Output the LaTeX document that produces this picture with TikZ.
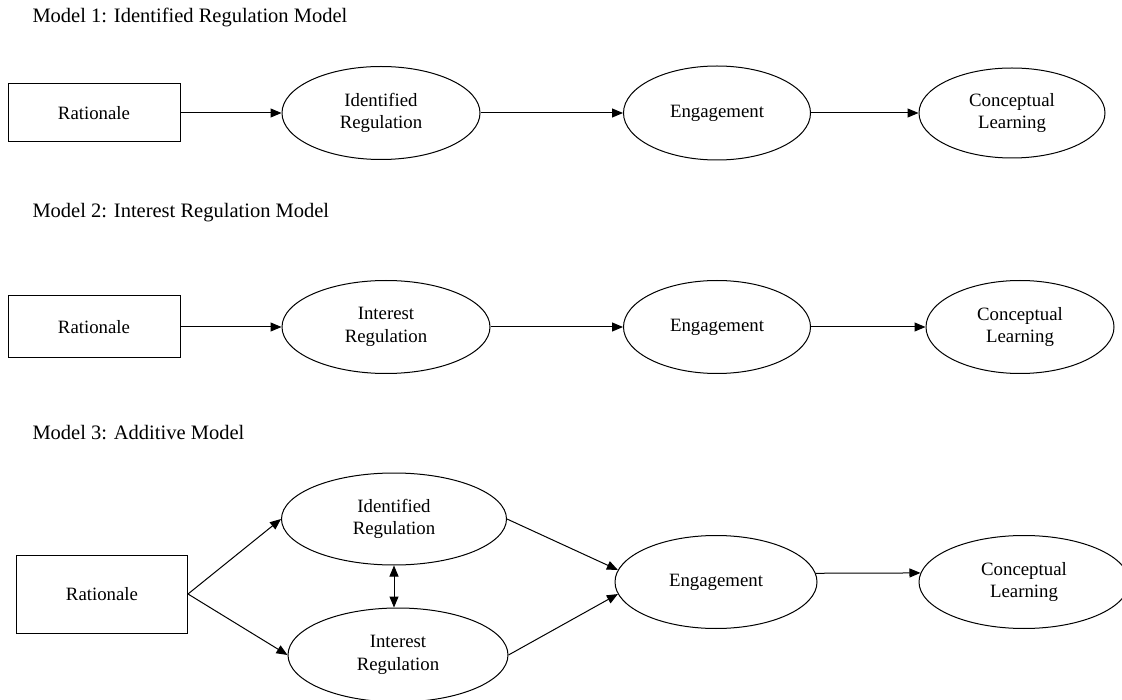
\documentclass[tikz,border=0pt]{standalone}
\usepackage{fontspec}
\setmainfont{Liberation Serif}
\usetikzlibrary{arrows.meta,shapes.geometric}

\begin{document}
\begin{tikzpicture}[x=1pt,y=-1pt,line width=1pt,
  box/.style={draw,rectangle,inner sep=0pt,font=\fontsize{18.8}{22.5}\selectfont},
  oval/.style={draw,ellipse,inner sep=0pt,align=center,font=\fontsize{18.8}{22.5}\selectfont},
  title/.style={anchor=west,inner sep=0pt,font=\fontsize{20.5}{24}\selectfont},
  arr/.style={-{Triangle[length=11pt,width=9pt]}},
  dbl/.style={{Triangle[length=11pt,width=9pt]}-{Triangle[length=11pt,width=9pt]}}]
\useasboundingbox (0,0) rectangle (1122,700);
%model 1
\node[title] (t1) at (32,18) {Model 1: Identified Regulation Model};
\node[box,minimum width=172pt,minimum height=58pt] (rat1) at (94,113) {Rationale};
\node[oval,minimum width=198pt,minimum height=93pt] (idr1) at (381,113) {Identified\\Regulation};
\node[oval,minimum width=187pt,minimum height=94pt] (eng1) at (717,113) {Engagement};
\node[oval,minimum width=186pt,minimum height=90pt] (con1) at (1012,113) {Conceptual\\Learning};
\draw[arr](rat1)--(idr1);
\draw[arr](idr1)--(eng1);
\draw[arr](eng1)--(con1);
%model 2
\node[title] (t2) at (32,213) {Model 2: Interest Regulation Model};
\node[box,minimum width=172pt,minimum height=62pt] (rat2) at (94,327) {Rationale};
\node[oval,minimum width=208pt,minimum height=93pt] (int2) at (386,327) {Interest\\Regulation};
\node[oval,minimum width=187pt,minimum height=93pt] (eng2) at (717,327) {Engagement};
\node[oval,minimum width=188pt,minimum height=93pt] (con2) at (1020,327) {Conceptual\\Learning};
\draw[arr](rat2)--(int2);
\draw[arr](int2)--(eng2);
\draw[arr](eng2)--(con2);
%model 3
\node[title] (t3) at (32,433) {Model 3: Additive Model};
\node[box,minimum width=171pt,minimum height=78pt] (rat3) at (102,594) {Rationale};
\node[oval,minimum width=225pt,minimum height=92pt] (idr3) at (394,519) {Identified\\Regulation};
\node[oval,minimum width=220pt,minimum height=94pt] (int3) at (398,655) {Interest\\Regulation};
\node[oval,minimum width=202pt,minimum height=93pt] (eng3) at (716,582) {Engagement};
\node[oval,minimum width=210pt,minimum height=93pt] (con3) at (1024,582) {Conceptual\\Learning};
\draw[arr](rat3.east)--(idr3.west);
\draw[arr](rat3.east)--(int3.west);
\draw[dbl](idr3.south)--(idr3.south|-int3.north);
\draw[arr](idr3.east)--(eng3.173);
\draw[arr](int3.east)--(eng3.187);
\draw[arr](eng3.5)--(con3.175);
\end{tikzpicture}
\end{document}
